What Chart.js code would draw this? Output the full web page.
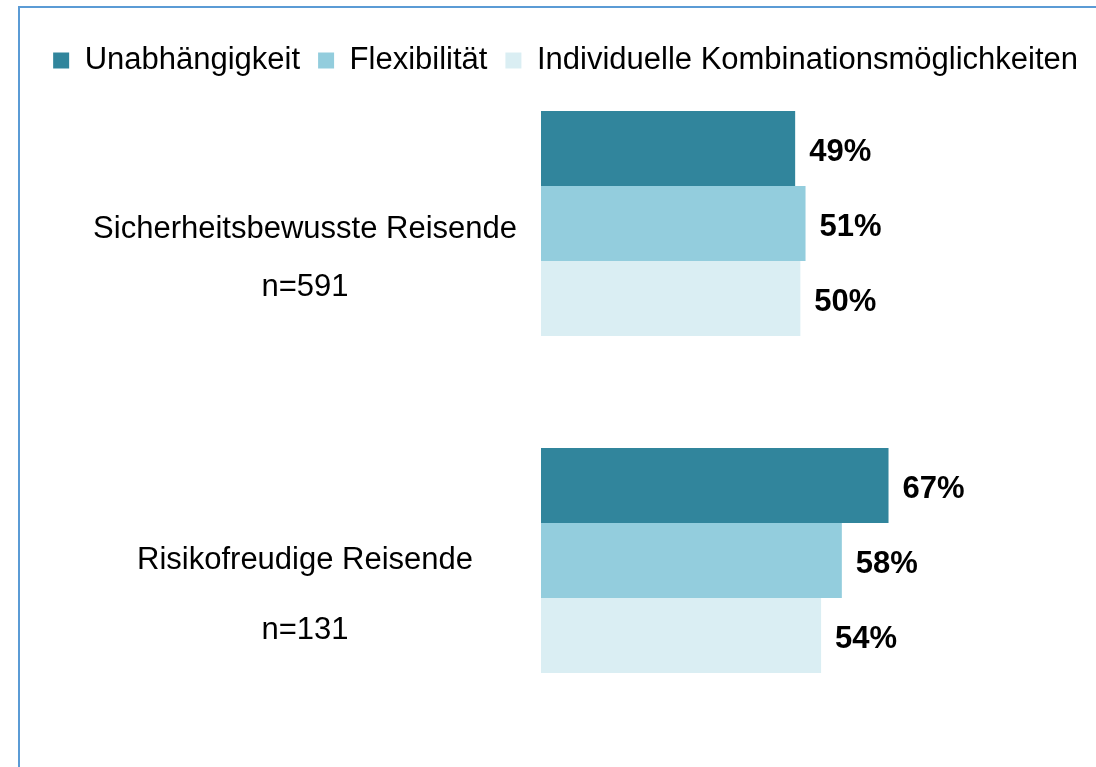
<!DOCTYPE html>
<html>
<head>
<meta charset="utf-8">
<script src="https://cdn.jsdelivr.net/npm/chart.js@4.4.1/dist/chart.umd.min.js"></script>
<style>
  html, body { margin: 0; padding: 0; background: #fff; }
  #wrap { position: relative; width: 1096px; height: 767px; overflow: hidden; }
  #wrap canvas { position: absolute; left: 0; top: 0; }
  /* blue frame: only the top and left edges are visible in the picture */
  #frame { position: absolute; left: 18px; top: 6px; width: 1300px; height: 1000px;
           border-left: 2px solid #5B9BD5; border-top: 2px solid #5B9BD5; pointer-events: none; }
</style>
</head>
<body>
<div id="wrap">
  <canvas id="barChart" width="1096" height="767"></canvas>
  <div id="frame"></div>
</div>
<script>
// Data
const groupLabels = [
    ['Sicherheitsbewusste Reisende', 'n=591'],
    ['Risikofreudige Reisende', 'n=131']
];
const seriesNames = ['Unabhängigkeit', 'Flexibilität', 'Individuelle Kombinationsmöglichkeiten'];
const unabhaengigkeit = [49, 67];
const flexibilitaet = [51, 58];
const kombinationen = [50, 54];

const seriesColors = ['#31859C', '#93CDDD', '#DAEEF3'];
const FONT = '"Liberation Sans", Arial, sans-serif';

Chart.defaults.font.family = FONT;
Chart.defaults.color = '#000';

// percent labels at the end of each bar
const valueLabels = {
    id: 'valueLabels',
    afterDatasetsDraw(chart) {
        const ctx = chart.ctx;
        ctx.save();
        ctx.font = 'bold 31px ' + FONT;
        ctx.fillStyle = '#000';
        ctx.textAlign = 'left';
        ctx.textBaseline = 'middle';
        chart.data.datasets.forEach((ds, i) => {
            chart.getDatasetMeta(i).data.forEach((bar, j) => {
                ctx.fillText(ds.data[j] + '%', bar.x + 14, bar.y + 4);
            });
        });
        ctx.restore();
    }
};

// legend takes little room in the layout but may draw over the plot's top
const legendOverlap = {
    id: 'legendOverlap',
    afterLayout(chart) {
        chart.legend.height = 60;
        chart.legend.bottom = chart.legend.top + 60;
    }
};

const ctx = document.getElementById('barChart').getContext('2d');
new Chart(ctx, {
    type: 'bar',
    data: {
        labels: groupLabels,
        datasets: [
            { label: seriesNames[0], data: unabhaengigkeit, backgroundColor: seriesColors[0] },
            { label: seriesNames[1], data: flexibilitaet, backgroundColor: seriesColors[1] },
            { label: seriesNames[2], data: kombinationen, backgroundColor: seriesColors[2] }
        ]
    },
    options: {
        indexAxis: 'y',
        responsive: false,
        animation: false,
        barPercentage: 1.0,
        categoryPercentage: 0.668,
        layout: { padding: { top: 27, bottom: 38, left: 0, right: 0 } },
        plugins: {
            tooltip: { enabled: false },
            legend: {
                position: 'top',
                align: 'end',
                maxHeight: 28,
                labels: {
                    font: { size: 31 },
                    color: '#000',
                    boxWidth: 16,
                    boxHeight: 16,
                    padding: 18
                }
            }
        },
        scales: {
            x: {
                display: false,
                min: 0,
                max: 107
            },
            y: {
                grid: { display: false },
                border: { display: false },
                afterFit: scale => {
                    scale.width = 541;
                    scale.paddingTop = 0;
                    scale.paddingBottom = 0;
                },
                ticks: {
                    color: '#000',
                    padding: 16,
                    crossAlign: 'center',
                    labelOffset: 35,
                    font: c => ({ size: 31, lineHeight: (c.index === 0 ? 58 : 70) + 'px' })
                }
            }
        }
    },
    plugins: [valueLabels, legendOverlap]
});
</script>
</body>
</html>
